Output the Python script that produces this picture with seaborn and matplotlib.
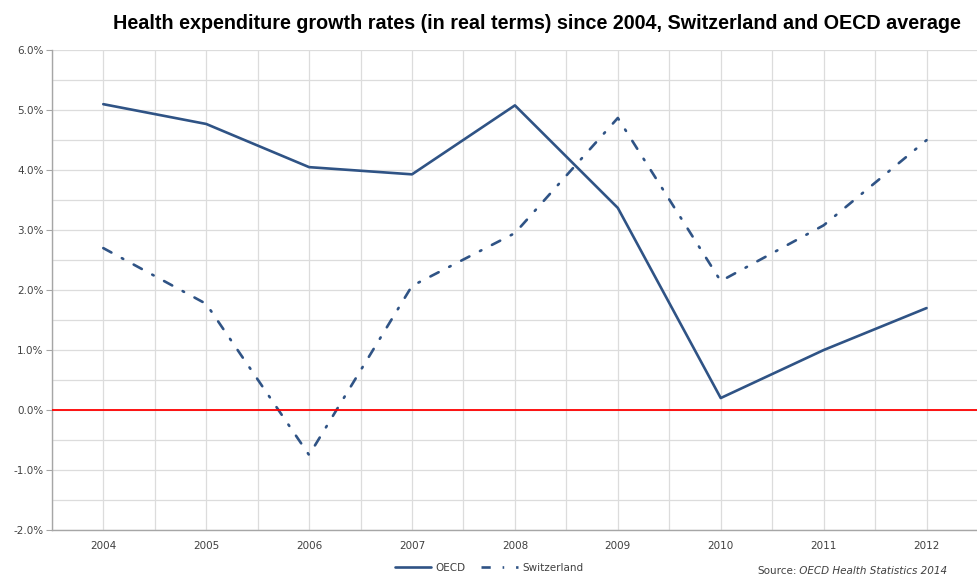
import matplotlib
matplotlib.use("Agg")
import matplotlib.pyplot as plt
import matplotlib.ticker as mticker
from matplotlib.lines import Line2D
import seaborn as sns
import pandas as pd

years = [2004, 2005, 2006, 2007, 2008, 2009, 2010, 2011, 2012]
oecd = [5.10, 4.77, 4.05, 3.93, 5.08, 3.37, 0.20, 1.00, 1.70]
switzerland = [2.70, 1.77, -0.75, 2.07, 2.95, 4.87, 2.15, 3.08, 4.50]
series_names = ["OECD", "Switzerland"]

sns.set_style("white")
plt.rcParams["font.family"] = ["DejaVu Sans"]

df = pd.DataFrame({
    "pos": list(range(len(years))) * 2,
    "value": oecd + switzerland,
    "series": [series_names[0]] * len(years) + [series_names[1]] * len(years),
})

color = "#2F5385"
fig = plt.figure(figsize=(9.78, 5.77), dpi=100)
ax = fig.add_axes([0.053, 0.0815, 0.947, 0.8315])

sns.lineplot(data=df[df.series == "OECD"], x="pos", y="value", ax=ax,
             color=color, linewidth=1.9, legend=False)
sns.lineplot(data=df[df.series == "Switzerland"], x="pos", y="value", ax=ax,
             color=color, linewidth=1.9, legend=False)
sw_dash = [3.5, 4.5, 0.6, 4.5]
ax.lines[1].set_dashes(sw_dash)
ax.lines[1].set_dash_capstyle("round")

ax.axhline(0, color="#FF0000", linewidth=1.3, zorder=3)

ax.set_xlim(-0.5, len(years) - 0.5)
ax.set_ylim(-2.0, 6.0)
ax.set_xticks(range(len(years)))
ax.set_xticklabels([str(y) for y in years])
ax.set_xticks([i + 0.5 for i in range(-1, len(years))], minor=True)
ax.set_yticks([i for i in range(-2, 7)])
ax.set_yticks([i + 0.5 for i in range(-2, 6)], minor=True)
ax.yaxis.set_major_formatter(mticker.FuncFormatter(lambda v, p: f"{v:.1f}%"))

ax.grid(True, which="both", color="#DCDCDC", linewidth=0.9)
ax.set_axisbelow(True)
for s in ["top", "right"]:
    ax.spines[s].set_visible(False)
for s in ["left", "bottom"]:
    ax.spines[s].set_color("#A6A6A6")
    ax.spines[s].set_linewidth(1.0)

ax.tick_params(axis="y", which="major", length=4, color="#A6A6A6",
               labelsize=7.5, labelcolor="#404040", pad=2, direction="out", left=True)
ax.tick_params(axis="y", which="minor", length=0)
ax.tick_params(axis="x", which="both", length=0, labelsize=7.5,
               labelcolor="#404040", pad=8)
ax.set_xlabel("")
ax.set_ylabel("")

fig.suptitle("Health expenditure growth rates (in real terms) since 2004, Switzerland and OECD average",
             x=0.549, y=0.975, fontsize=14.2, fontweight="bold", color="black",
             family=["Liberation Sans"])

handles = [Line2D([0], [0], color=color, linewidth=1.9),
           Line2D([0], [0], color=color, linewidth=1.9, dashes=sw_dash)]
fig.legend(handles, series_names, loc="center", bbox_to_anchor=(0.5, 0.016),
           ncol=2, frameon=False, fontsize=7.5, handlelength=3.5,
           columnspacing=1.5, handletextpad=0.4, labelcolor="#404040")

t1 = fig.text(0.774, 0.001, "Source:", fontsize=7.5, color="#404040", va="bottom")
ax.annotate(" OECD Health Statistics 2014", xy=(1, 0), xycoords=t1,
            fontsize=7.5, color="#404040", style="italic", va="bottom",
            ha="left", annotation_clip=False)

fig.savefig("out.png", dpi=100)
